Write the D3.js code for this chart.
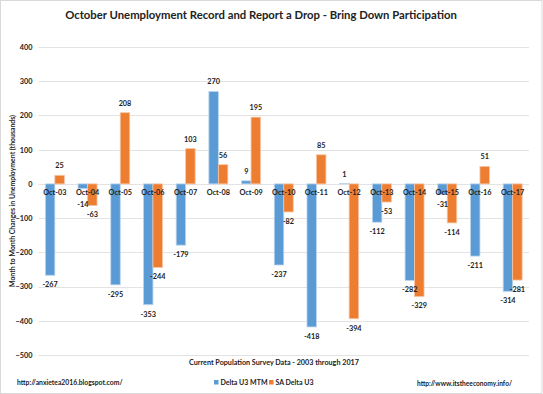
<!DOCTYPE html>
<html>
<head>
<meta charset="utf-8">
<script src="https://cdn.jsdelivr.net/npm/d3@7"></script>
<style>
  body { margin: 0; background: #fff; }
  text { font-family: Lato, "Open Sans", sans-serif; fill: #222; }
</style>
</head>
<body>
<div class="chart"></div>
<script>
const categories = ['Oct-03','Oct-04','Oct-05','Oct-06','Oct-07','Oct-08','Oct-09','Oct-10',
  'Oct-11','Oct-12','Oct-13','Oct-14','Oct-15','Oct-16','Oct-17'];
const deltaU3 = [-267, -14, -295, -353, -179, 270, 9, -237, -418, 1, -112, -282, -31, -211, -314];
const saDeltaU3 = [25, -63, 208, -244, 103, 56, 195, -82, 85, -394, -53, -329, -114, 51, -281];
const yTicks = [400, 300, 200, 100, 0, -100, -200, -300, -400, -500];
const seriesNames = ['Delta U3 MTM', 'SA Delta U3'];

const W = 543, H = 394;
const margin = {top: 47, right: 14, bottom: 39, left: 38.5};

const svg = d3.select('.chart').append('svg')
  .attr('width', W)
  .attr('height', H);

// outer frame
svg.append('rect')
  .attr('x', 0.5).attr('y', 0.5)
  .attr('width', W - 1.5).attr('height', H - 1)
  .attr('fill', 'none')
  .attr('stroke', '#d9d9d9');

const x0 = d3.scaleBand()
  .domain(categories)
  .range([margin.left, W - margin.right])
  .paddingInner(0.42)
  .paddingOuter(0.21);

const x1 = d3.scaleBand()
  .domain([0, 1])
  .range([0, x0.bandwidth()]);

const y = d3.scaleLinear()
  .domain([-500, 400])
  .range([H - margin.bottom, margin.top]);

const colors = ['#5B9BD5', '#ED7D31'];

// grid
svg.append('g')
  .selectAll('line')
  .data(yTicks)
  .join('line')
  .attr('x1', margin.left)
  .attr('x2', W - margin.right)
  .attr('y1', d => Math.round(y(d)) + 0.5)
  .attr('y2', d => Math.round(y(d)) + 0.5)
  .attr('stroke', '#e3e3e3');

// y axis labels
const yAxis = d3.axisLeft(y).tickValues(yTicks).tickSize(0).tickPadding(6);
svg.append('g')
  .attr('transform', `translate(${margin.left},0)`)
  .call(yAxis)
  .call(g => g.select('.domain').remove())
  .call(g => g.selectAll('text')
    .style('font-family', 'Lato, sans-serif')
    .style('font-size', '7.3px')
    .style('font-weight', 'bold')
    .attr('fill', '#333'));

const series = [deltaU3, saDeltaU3];

series.forEach((vals, s) => {
  svg.append('g')
    .selectAll('rect')
    .data(vals)
    .join('rect')
    .attr('x', (d, i) => x0(categories[i]) + x1(s))
    .attr('width', x1.bandwidth())
    .attr('y', d => y(Math.max(0, d)))
    .attr('height', d => Math.abs(y(d) - y(0)))
    .attr('fill', colors[s])
    .attr('stroke', s === 0 ? '#bcd6ee' : '#f6c4a2')
    .attr('stroke-width', 0.8);
});

// category labels at zero line
svg.append('g')
  .selectAll('text')
  .data(categories)
  .join('text')
  .attr('x', d => x0(d) + x0.bandwidth() / 2)
  .attr('y', y(0) + 11)
  .attr('text-anchor', 'middle')
  .style('font-size', '7.3px')
  .style('font-weight', 'bold')
  .text(d => d);

// data labels, pushed below the category labels when a bar is short
series.forEach((vals, s) => {
  svg.append('g')
    .selectAll('text')
    .data(vals)
    .join('text')
    .attr('x', (d, i) => x0(categories[i]) + x1(s) + x1.bandwidth() / 2)
    .attr('y', d => d >= 0 ? y(d) - 7 : Math.max(y(d) + 12, y(0) + 23))
    .attr('text-anchor', 'middle')
    .style('font-size', '7.3px')
    .style('font-weight', 'bold')
    .text(d => d);
});

// title
svg.append('text')
  .attr('x', 261)
  .attr('y', 19)
  .attr('text-anchor', 'middle')
  .style('font-size', '11.3px')
  .style('font-weight', 'bold')
  .text('October Unemployment Record and Report a Drop - Bring Down Participation');

// y axis title
svg.append('text')
  .attr('transform', `translate(14.5,201) rotate(-90)`)
  .attr('text-anchor', 'middle')
  .style('font-size', '6.9px')
  .style('font-weight', 'bold')
  .text('Month to Month Changes in Unemployment (thousands)');

// x axis title
svg.append('text')
  .attr('x', 274)
  .attr('y', 365)
  .attr('text-anchor', 'middle')
  .style('font-size', '7.2px')
  .style('font-weight', 'bold')
  .text('Current Population Survey Data - 2003 through 2017');

// footer urls
svg.append('text')
  .attr('x', 17).attr('y', 385)
  .style('font-size', '6.8px')
  .style('font-weight', 'bold')
  .text('http://anxietea2016.blogspot.com/');

svg.append('text')
  .attr('x', 512).attr('y', 386)
  .attr('text-anchor', 'end')
  .style('font-size', '6.6px')
  .style('font-weight', 'bold')
  .text('http://www.itstheeconomy.info/');

// legend
const legendX = [214, 269];
seriesNames.forEach((name, s) => {
  svg.append('rect')
    .attr('x', legendX[s]).attr('y', 380)
    .attr('width', 4.5).attr('height', 4.5)
    .attr('fill', colors[s]);
  svg.append('text')
    .attr('x', legendX[s] + 6.5).attr('y', 385)
    .style('font-size', '7px')
    .style('font-weight', 'bold')
    .text(name);
});
</script>
</body>
</html>
